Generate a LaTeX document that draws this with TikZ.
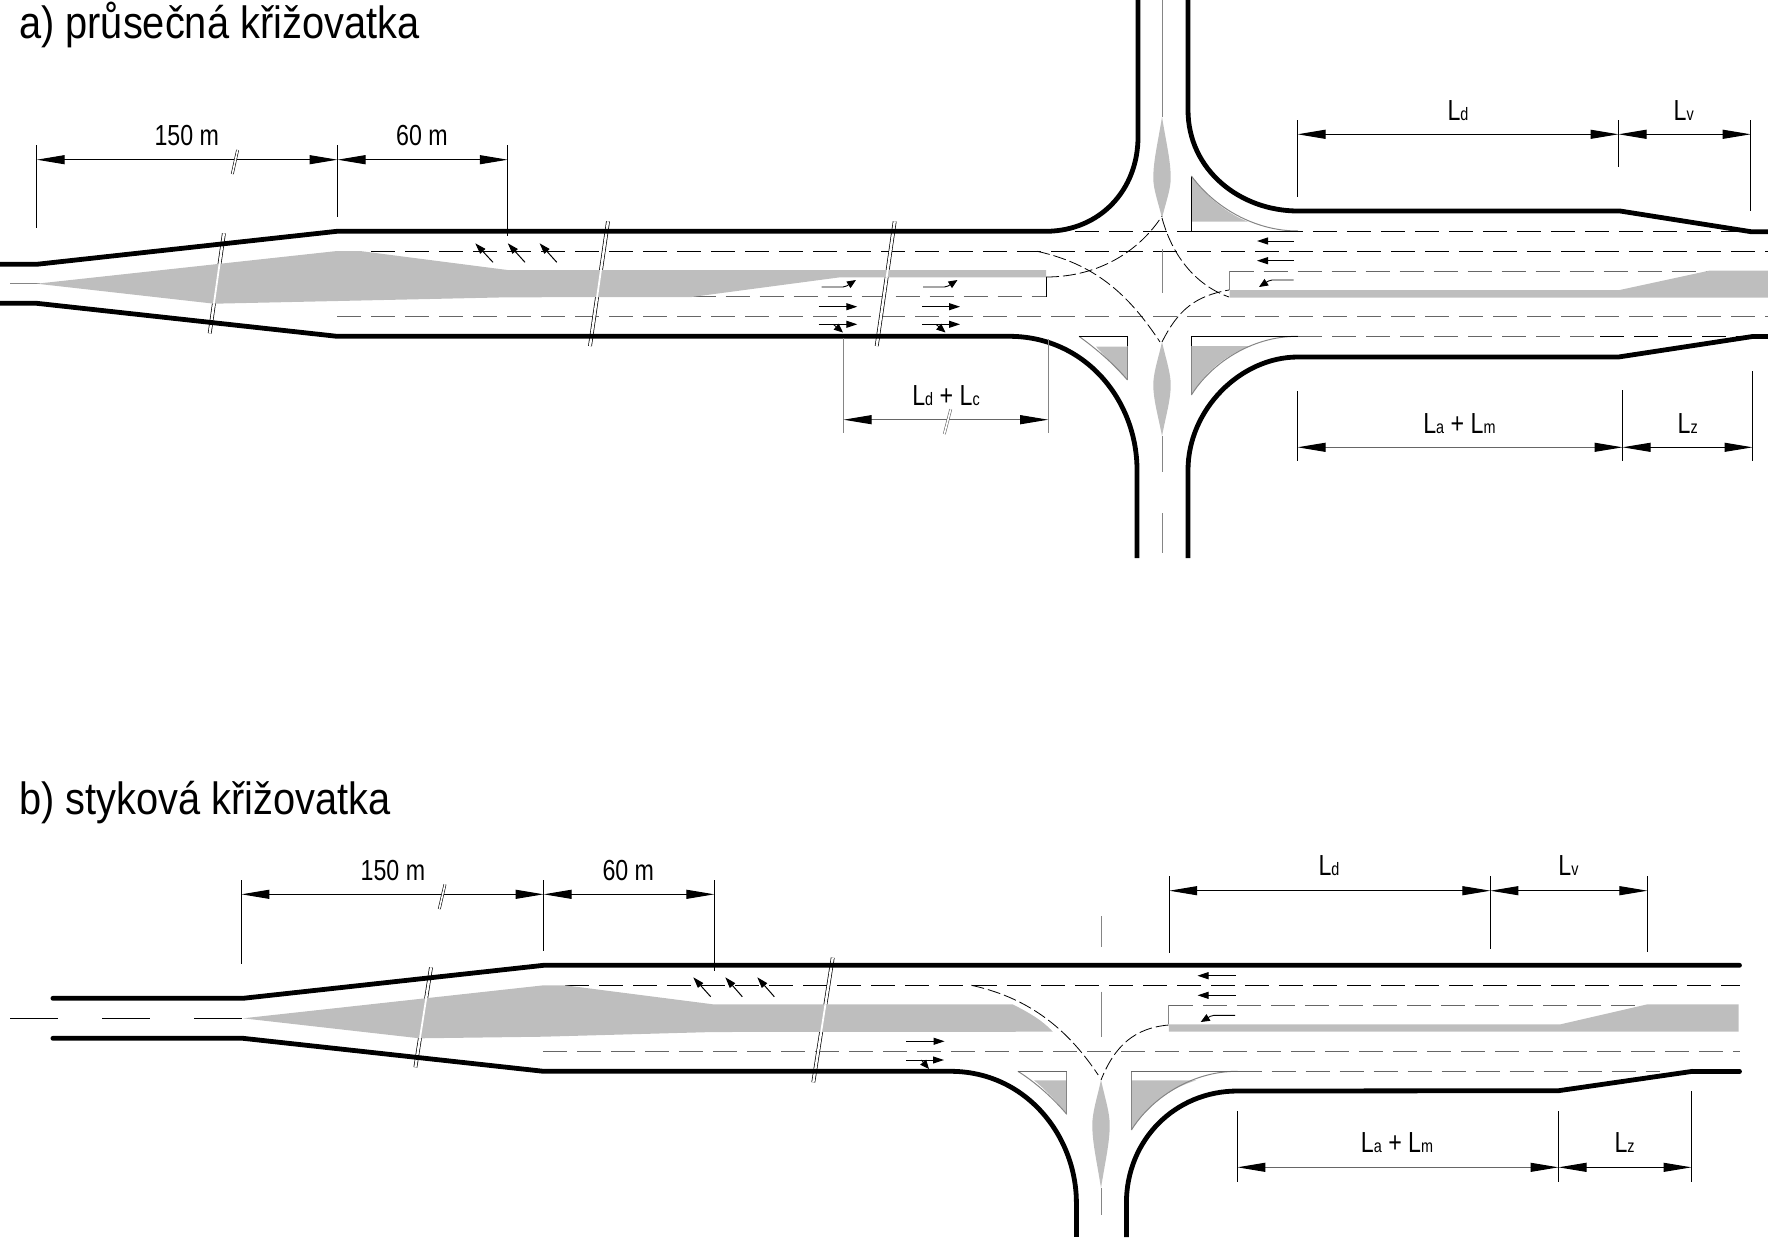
\documentclass[tikz,border=0pt]{standalone}
\usepackage{fontspec}
\setmainfont[FakeStretch=0.88]{Liberation Sans}
\newfontfamily\dimfont[FakeStretch=0.8]{Liberation Sans}
\usetikzlibrary{arrows.meta}
\definecolor{isle}{HTML}{BEBEBE}
\definecolor{laneg}{HTML}{666666}
\newcommand{\sL}[1]{L{\fontsize{18}{18}\selectfont #1}}
% spindle: centre x, top, widest, bottom
\newcommand{\lensp}[4]{(#1,#2) .. controls ({#1+4.5},{#2+0.45*(#3-#2)}) and ({#1+8.7},{#2+0.72*(#3-#2)}) .. (#1+8.7,#3) .. controls ({#1+8.7},{#3+0.28*(#4-#3)}) and ({#1+4.5},{#3+0.55*(#4-#3)}) .. (#1,#4) .. controls ({#1-4.5},{#3+0.55*(#4-#3)}) and ({#1-8.7},{#3+0.28*(#4-#3)}) .. (#1-8.7,#3) .. controls ({#1-8.7},{#2+0.72*(#3-#2)}) and ({#1-4.5},{#2+0.45*(#3-#2)}) .. (#1,#2) -- cycle}
\tikzset{
  curbline/.style={line width=4.8pt,line cap=butt,line join=round},
  thinln/.style={line width=0.9pt},
  thingrey/.style={line width=1pt,draw=isle!70!black},
  lanek/.style={line width=1pt,draw=black,dash pattern=on 24pt off 10pt},
  laneh/.style={line width=1pt,draw=laneg,dash pattern=on 24pt off 10pt},
  turnln/.style={line width=0.8pt,draw=black,dash pattern=on 13pt off 4pt},
  islefill/.style={fill=isle,draw=none},
  dimln/.style={line width=1pt,{Triangle[length=28pt,width=9pt]}-{Triangle[length=28pt,width=9pt]}},
  dimgrey/.style={line width=1pt,draw=laneg,{Triangle[length=28pt,width=9pt,black]}-{Triangle[length=28pt,width=9pt,black]}},
  tickln/.style={line width=1pt},
  breakln/.style={line width=0.7pt,draw=black,double=white,double distance=2.4pt},
  whiteln/.style={line width=1.8pt,draw=white},
  minibreak/.style={line width=0.6pt,draw=black,double=white,double distance=1.6pt},
  smallarr/.style={line width=1pt,-{Triangle[length=11pt,width=7pt]}},
  tinyarr/.style={line width=0.9pt,rounded corners=2pt,-{Triangle[length=9pt,width=7.5pt]}},
  txt/.style={anchor=base,inner sep=0pt,font=\dimfont\fontsize{29}{29}\selectfont},
  headtxt/.style={anchor=base west,inner sep=0pt,font=\fontsize{45.2}{45.2}\selectfont}
}
\begin{document}
\begin{tikzpicture}[x=1pt,y=-1pt]
\useasboundingbox (0,0) rectangle (1768,1237);
% ============ a) ============
\node[headtxt] (heada) at (19,38) {a) průsečná křižovatka};
% lane lines
\draw[lanek] (337,251) -- (1768,251);
\draw[laneh] (337,316.7) -- (1768,316.7);
\draw[laneh] (691.7,296.7) -- (1046,296.7);
\draw[lanek] (1075,231.3) -- (1768,231.3);
\draw[laneh] (1298,336.5) -- (1600,336.5);
\draw[lanek] (1600,336.5) -- (1752,336.5);
\draw[laneh] (1229.7,271.3) -- (1709,271.3);
\draw[thinln,draw=black] (1046,277.3) -- (1046,296.7);
\draw[thingrey] (1229.7,271.3) -- (1229.7,290);
% breaks
\draw[breakln] (223.9,233.3) -- (209.7,333.3);
\draw[breakln] (608,221.3) -- (590,346);
\draw[breakln] (894.7,221.3) -- (876.7,346);
% grey islands
\draw[thingrey] (10,283.7) -- (40,283.7);
\fill[islefill] (36.7,283.7) -- (337,251) -- (360,251) -- (507.5,270) -- (1046,270) -- (1046,277.3) -- (840,277.3) -- (691.7,297) -- (507.5,297.3) -- (214,303.7) -- cycle;
\begin{scope}
\clip (36.7,283.7) -- (337,251) -- (360,251) -- (507.5,270) -- (1046,270) -- (1046,277.3) -- (840,277.3) -- (691.7,297) -- (507.5,297.3) -- (214,303.7) -- cycle;
\draw[whiteln] (223.9,233.3) -- (209.7,333.3);
\draw[whiteln] (608,221.3) -- (590,346);
\draw[whiteln] (894.7,221.3) -- (876.7,346);
\end{scope}
\fill[islefill] (1229.7,290) -- (1619.6,290) -- (1709,270.7) -- (1768,270.7) -- (1768,297.7) -- (1229.7,297.7) -- cycle;
% median lenses and centre line
\draw[thingrey] (1162,0) -- (1162,117);
\fill[islefill] \lensp{1162}{117}{178}{218};
\draw[thingrey] (1162,249) -- (1162,293);
\fill[islefill] \lensp{1162}{342}{385}{436};
\draw[thingrey] (1162,436) -- (1162,472);
\draw[thingrey] (1162,513) -- (1162,553);
% corner islands
\fill[islefill] (1191.4,176) .. controls (1203,193) and (1225,213) .. (1248,221.7) -- (1191.4,221.7) -- cycle;
\draw[thinln] (1191.4,231.3) -- (1191.4,176);
\draw[thingrey] (1191.4,176) .. controls (1215,208) and (1255,231) .. (1298,231);
\draw[thinln] (1191.4,231.3) -- (1300,231.3);
\fill[islefill] (1096,346.7) -- (1127.5,346.7) -- (1127.5,380) .. controls (1115,368) and (1105,356) .. cycle;
\draw[thinln] (1127.5,336.3) -- (1127.5,346);
\draw[thingrey] (1127.5,346) -- (1127.5,380);
\draw[thingrey] (1079,336.3) .. controls (1095,348) and (1112,362) .. (1127.5,380);
\draw[thinln] (1079,336.3) -- (1127.5,336.3);
\fill[islefill] (1191.4,346) -- (1251,346) .. controls (1225,355) and (1205,372) .. (1191.4,395) -- cycle;
\draw[thingrey] (1191.4,346) -- (1191.4,395);
\draw[thingrey] (1298,336.3) .. controls (1250,336) and (1210,365) .. (1191.4,395);
\draw[thinln] (1191.4,336.3) -- (1298,336.3);
\draw[thinln] (1191.4,336.3) -- (1191.4,346);
% turning paths
\draw[turnln] (1046,277) .. controls (1100,277) and (1140,250) .. (1162,216);
\draw[turnln] (1037,251.3) .. controls (1100,265) and (1132,300) .. (1160,342);
\draw[turnln] (1162,218) .. controls (1172,255) and (1195,285) .. (1229,297);
\draw[turnln] (1162,342) .. controls (1178,310) and (1195,296) .. (1229,290);
% kerbs
\draw[curbline] (0,264.3) -- (36.7,264.3) -- (337,231.3) -- (1046,231.3) .. controls (1100,231) and (1138,190) .. (1138,137) -- (1138,0);
\draw[curbline] (0,303.3) -- (36.7,303.3) -- (337,336.3) -- (1008.6,336.3) .. controls (1085,336) and (1137,400) .. (1137,470) -- (1137,558);
\draw[curbline] (1188,0) -- (1188,110) .. controls (1188,170) and (1240,211) .. (1298,211) -- (1620,211) -- (1751,231.7) -- (1768,231.7);
\draw[curbline] (1188,558) -- (1188,470) .. controls (1188,410) and (1240,357) .. (1298,357) -- (1618.5,357) -- (1752.5,336.5) -- (1768,336.5);
% traffic arrows
\draw[smallarr] (493,262.3) -- (475.3,243.3);
\draw[smallarr] (525,262.3) -- (507.8,243.3);
\draw[smallarr] (556.8,262.3) -- (539.6,243.3);
\draw[tinyarr] (821.7,287) -- (845,287) -- (856,280);
\draw[smallarr] (818.7,306.7) -- (857.3,306.7);
\draw[smallarr] (818.7,324.3) -- (857.3,324.3);
\draw[tinyarr] (833.3,324.3) -- (843,332.5);
\draw[tinyarr] (923,287) -- (946.5,287) -- (957.5,280);
\draw[smallarr] (922,306.7) -- (960,306.7);
\draw[smallarr] (922,324.3) -- (960,324.3);
\draw[tinyarr] (936,324.3) -- (945.5,332.5);
\draw[smallarr] (1294,241) -- (1257,241);
\draw[smallarr] (1294,260.7) -- (1257,260.7);
\draw[tinyarr] (1293.6,280) -- (1270,280) -- (1259,287);
% dimensions
\draw[tickln] (36.7,145) -- (36.7,228);
\draw[tickln] (337.5,145) -- (337.5,216.7);
\draw[tickln] (507.8,145) -- (507.8,235.7);
\draw[dimln] (36.7,159.7) -- (337.5,159.7);
\draw[dimln] (337.5,159.7) -- (507.8,159.7);
\draw[minibreak] (237.6,150) -- (232.3,174);
\node[txt] (a150) at (186.8,145.7) {150 m};
\node[txt] (a60) at (422,145.7) {60 m};
\draw[tickln,draw=isle!70!black] (843.6,338) -- (843.6,432.7);
\draw[tickln,draw=isle!70!black] (1048.2,339) -- (1048.2,432.7);
\draw[dimgrey] (843.6,419.7) -- (1048.2,419.7);
\draw[minibreak,draw=laneg] (950.7,409.3) -- (944.3,434);
\node[txt] (alc) at (946,405.7) {\sL{d} + \sL{c}};
\draw[tickln] (1297.5,120) -- (1297.5,196.7);
\draw[tickln] (1618.5,120) -- (1618.5,166.7);
\draw[tickln] (1750.7,120) -- (1750.7,210.7);
\draw[dimln] (1297.5,134.3) -- (1618.5,134.3);
\draw[dimln] (1618.5,134.3) -- (1750.7,134.3);
\node[txt] (ald) at (1458,120) {\sL{d}};
\node[txt] (alv) at (1683.7,120) {\sL{v}};
\draw[tickln] (1297.5,391) -- (1297.5,461);
\draw[tickln] (1622.5,390) -- (1622.5,461);
\draw[tickln] (1752.5,371) -- (1752.5,461);
\draw[dimgrey] (1297.5,447.3) -- (1622.5,447.3);
\draw[dimln] (1622.5,447.3) -- (1752.5,447.3);
\node[txt] (alam) at (1459.4,433.3) {\sL{a} + \sL{m}};
\node[txt] (alz) at (1687.7,433.3) {\sL{z}};
% ============ b) ============
\node[headtxt] (headb) at (19,814) {b) styková křižovatka};
% lane lines
\draw[line width=1pt,dash pattern=on 48pt off 44pt] (10,1018.3) -- (243,1018.3);
\draw[lanek] (565,985.3) -- (1739.5,985.3);
\draw[laneh] (543.3,1051) -- (1739.5,1051);
\draw[laneh] (1168.8,1005) -- (1647,1005);
\draw[thingrey] (1168.8,1005) -- (1168.8,1024.3);
\draw[laneh] (1237.5,1071.3) -- (1660,1071.3);
% breaks
\draw[breakln] (431,967.3) -- (415.4,1067.3);
\draw[breakln] (832.7,957.7) -- (813.3,1082.3);
% islands
\fill[islefill] (243,1018.3) -- (543.6,985.3) -- (565,985.3) -- (713,1004.3) -- (1012.5,1004.3) .. controls (1028,1012) and (1042,1020) .. (1052.9,1031.7) -- (713,1032) -- (543,1036.7) -- (419.6,1038.3) -- cycle;
\begin{scope}
\clip (243,1018.3) -- (543.6,985.3) -- (565,985.3) -- (713,1004.3) -- (1012.5,1004.3) .. controls (1028,1012) and (1042,1020) .. (1052.9,1031.7) -- (713,1032) -- (543,1036.7) -- (419.6,1038.3) -- cycle;
\draw[whiteln] (431,967.3) -- (415.4,1067.3);
\draw[whiteln] (832.7,957.7) -- (813.3,1082.3);
\end{scope}
\fill[islefill] (1168.8,1024.3) -- (1560.5,1024.3) -- (1647.4,1004.3) -- (1738.7,1004.3) -- (1738.7,1031.7) -- (1168.8,1031.7) -- cycle;
\draw[thingrey] (1101,916) -- (1101,946.7);
\draw[thingrey] (1101,991.7) -- (1101,1036.7);
\fill[islefill] \lensp{1101}{1080}{1125}{1188};
\draw[thingrey] (1101,1188) -- (1101,1215);
% corner islands
\fill[islefill] (1034,1080.3) -- (1066.8,1080.3) -- (1066.8,1114.3) .. controls (1056,1101) and (1046,1090) .. cycle;
\draw[thingrey] (1066.8,1071.3) -- (1066.8,1114.3);
\draw[thingrey] (1017.9,1071.3) .. controls (1035,1082) and (1052,1097) .. (1066.8,1114.3);
\draw[thinln,draw=laneg] (1017.9,1071.3) -- (1066.8,1071.3);
\fill[islefill] (1131.4,1080.3) -- (1196.4,1080.3) .. controls (1170,1088) and (1146,1106) .. (1131.4,1130) -- cycle;
\draw[thingrey] (1131.4,1071.3) -- (1131.4,1130);
\draw[thingrey] (1237.5,1071.3) .. controls (1190,1071) and (1150,1100) .. (1131.4,1130);
\draw[thinln,draw=laneg] (1131.4,1071.3) -- (1237.5,1071.3);
% turning paths
\draw[turnln] (971.4,985.3) .. controls (1025,997) and (1065,1025) .. (1098.2,1075);
\draw[turnln] (1168.6,1025) .. controls (1135,1028) and (1115,1045) .. (1101,1080);
% kerbs
\draw[curbline,line cap=round] (52.9,998.3) -- (243,998.3) -- (543.6,965.3) -- (1739.5,965.3);
\draw[curbline,line cap=round] (52.9,1038.3) -- (243,1038.3) -- (543.6,1071.3) -- (950,1071.3) .. controls (1025,1071) and (1076.4,1135) .. (1076.4,1203);
\draw[curbline] (1076.4,1200) -- (1076.4,1237);
\draw[curbline] (1126.4,1237) -- (1126.4,1203) .. controls (1126.4,1140) and (1175,1091) .. (1237.5,1091) -- (1558.5,1090.7) -- (1692.7,1071.3);
\draw[curbline,line cap=round] (1692.7,1071.3) -- (1739.5,1071.3);
% traffic arrows
\draw[smallarr] (710.7,996.7) -- (693.3,977.3);
\draw[smallarr] (742.3,996.7) -- (725.3,977.3);
\draw[smallarr] (774.3,996.7) -- (757.3,977.3);
\draw[smallarr] (906,1041.3) -- (944.6,1041.3);
\draw[smallarr] (906.4,1060) -- (944,1060);
\draw[tinyarr] (921.4,1060) -- (929,1069);
\draw[smallarr] (1235.7,975.7) -- (1197.5,975.7);
\draw[smallarr] (1235.7,995.3) -- (1197.5,995.3);
\draw[tinyarr] (1235,1015.3) -- (1212,1015.3) -- (1200.7,1022);
% dimensions
\draw[tickln] (241.4,880) -- (241.4,964);
\draw[tickln] (543.6,880) -- (543.6,950.7);
\draw[tickln] (714.3,880) -- (714.3,970.7);
\draw[dimln] (241.4,894.3) -- (543.6,894.3);
\draw[dimln] (543.6,894.3) -- (714.3,894.3);
\draw[minibreak] (445,884.3) -- (439.3,909);
\node[txt] (b150) at (392.9,880) {150 m};
\node[txt] (b60) at (628.3,880) {60 m};
\draw[tickln] (1169.2,876) -- (1169.2,952.7);
\draw[tickln] (1490.4,876) -- (1490.4,949.3);
\draw[tickln] (1647.4,876) -- (1647.4,951.7);
\draw[dimln] (1169.2,890.7) -- (1490.4,890.7);
\draw[dimln] (1490.4,890.7) -- (1647.4,890.7);
\node[txt] (bld) at (1329,875.7) {\sL{d}};
\node[txt] (blv) at (1568.5,875.7) {\sL{v}};
\draw[tickln] (1237.3,1111) -- (1237.3,1181.7);
\draw[tickln] (1558.5,1111) -- (1558.5,1181.7);
\draw[tickln] (1691.5,1091) -- (1691.5,1181.7);
\draw[dimgrey] (1237.3,1167.3) -- (1558.5,1167.3);
\draw[dimln] (1558.5,1167.3) -- (1691.5,1167.3);
\node[txt] (blam) at (1397,1152.7) {\sL{a} + \sL{m}};
\node[txt] (blz) at (1624.6,1152.7) {\sL{z}};
\end{tikzpicture}
\end{document}
